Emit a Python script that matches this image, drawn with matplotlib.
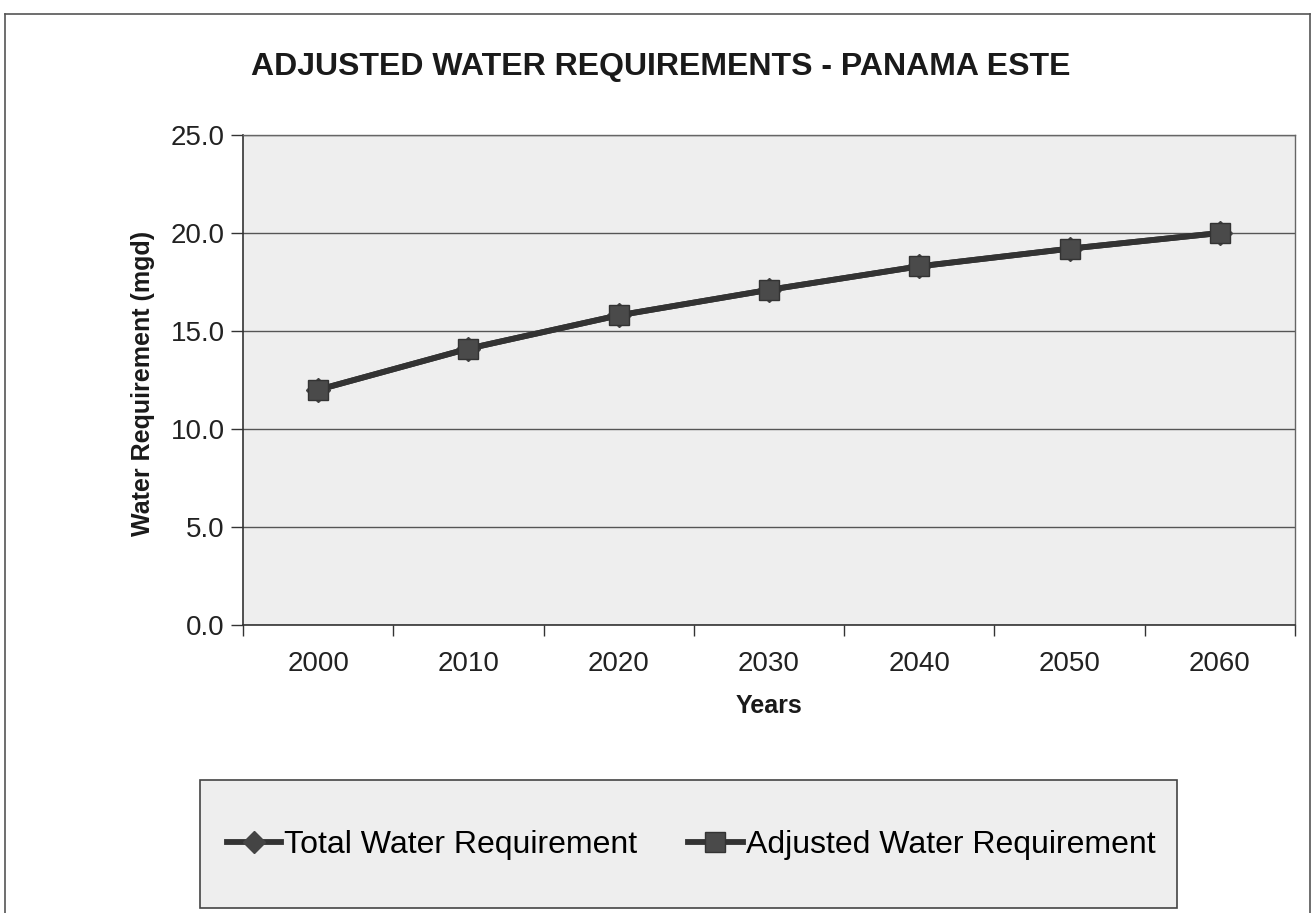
import matplotlib
matplotlib.use("Agg")
import matplotlib.pyplot as plt
from matplotlib.patches import Rectangle
from matplotlib.lines import Line2D

plt.rcParams['font.family'] = ['Liberation Sans', 'DejaVu Sans']

years = ["2000", "2010", "2020", "2030", "2040", "2050", "2060"]
total_req = [12.0, 14.1, 15.8, 17.1, 18.3, 19.2, 20.0]
adjusted_req = [12.0, 14.1, 15.8, 17.1, 18.3, 19.2, 20.0]
y_ticks = [0, 5, 10, 15, 20, 25]
y_labels = ["0.0", "5.0", "10.0", "15.0", "20.0", "25.0"]

W, H = 1314, 913
fig = plt.figure(figsize=(W / 100, H / 100), dpi=100)
fig.patch.set_facecolor('white')

# outer chart border
for (x0, y0, x1, y1) in [(5, 14, 5, 913), (5, 14, 1310, 14), (1310, 14, 1310, 913)]:
    fig.add_artist(Line2D([x0 / W, x1 / W], [1 - y0 / H, 1 - y1 / H],
                          transform=fig.transFigure, color='#555555', lw=1.2))

ax = fig.add_axes([243 / W, 1 - 625 / H, (1295 - 243) / W, (625 - 135) / H])
ax.set_facecolor('#eeeeee')

x = list(range(len(years)))
ax.plot(x, total_req, color='#333333', lw=4.2, marker='D', markersize=12,
        markerfacecolor='#444444', markeredgecolor='#444444', zorder=3)
ax.plot(x, adjusted_req, color='#333333', lw=4.2, marker='s', markersize=15,
        markerfacecolor='#4a4a4a', markeredgecolor='#333333', zorder=4)

ax.set_xlim(-0.5, len(years) - 0.5)
ax.set_ylim(0, 25)
ax.set_yticks(y_ticks)
ax.set_yticklabels(y_labels, fontsize=20, color='#222222')
ax.yaxis.grid(True, color='#555555', lw=1.0)
ax.set_axisbelow(True)

ax.set_xticks(x)
ax.set_xticklabels(years, fontsize=20, color='#222222')
ax.set_xticks([i - 0.5 for i in range(len(years) + 1)], minor=True)
ax.tick_params(axis='x', which='major', length=0, pad=19)
ax.tick_params(axis='x', which='minor', length=8, width=1, color='#333333')
ax.tick_params(axis='y', length=9, width=1, color='#333333', pad=4)

for s in ['left', 'bottom']:
    ax.spines[s].set_color('#333333')
    ax.spines[s].set_linewidth(1.2)
for s in ['top', 'right']:
    ax.spines[s].set_color('#666666')
    ax.spines[s].set_linewidth(1.0)

fig.text(661 / W, 1 - 67 / H, "ADJUSTED WATER REQUIREMENTS - PANAMA ESTE",
         ha='center', va='center', fontsize=23, fontweight='bold', color='#1a1a1a')
fig.text(143 / W, 1 - 383 / H, "Water Requirement (mgd)", rotation=90,
         ha='center', va='center', fontsize=18, fontweight='bold', color='#1a1a1a')
fig.text(769 / W, 1 - 706 / H, "Years", ha='center', va='center',
         fontsize=18, fontweight='bold', color='#1a1a1a')

# legend box
fig.add_artist(Rectangle((200 / W, 1 - 908 / H), (1177 - 200) / W, (908 - 780) / H,
                         transform=fig.transFigure, facecolor='#eeeeee',
                         edgecolor='#444444', lw=1.2))
handles = [
    Line2D([], [], color='#333333', lw=4.2, marker='D', markersize=11,
           markerfacecolor='#444444', markeredgecolor='#444444'),
    Line2D([], [], color='#333333', lw=4.2, marker='s', markersize=14,
           markerfacecolor='#4a4a4a', markeredgecolor='#333333'),
]
fig.legend(handles, ["Total Water Requirement", "Adjusted Water Requirement"],
           loc='center', bbox_to_anchor=(691 / W, 1 - 845 / H), ncol=2,
           frameon=False, fontsize=23, handlelength=1.7, handletextpad=0.1,
           columnspacing=1.6)

fig.savefig("out.png", dpi=100)
